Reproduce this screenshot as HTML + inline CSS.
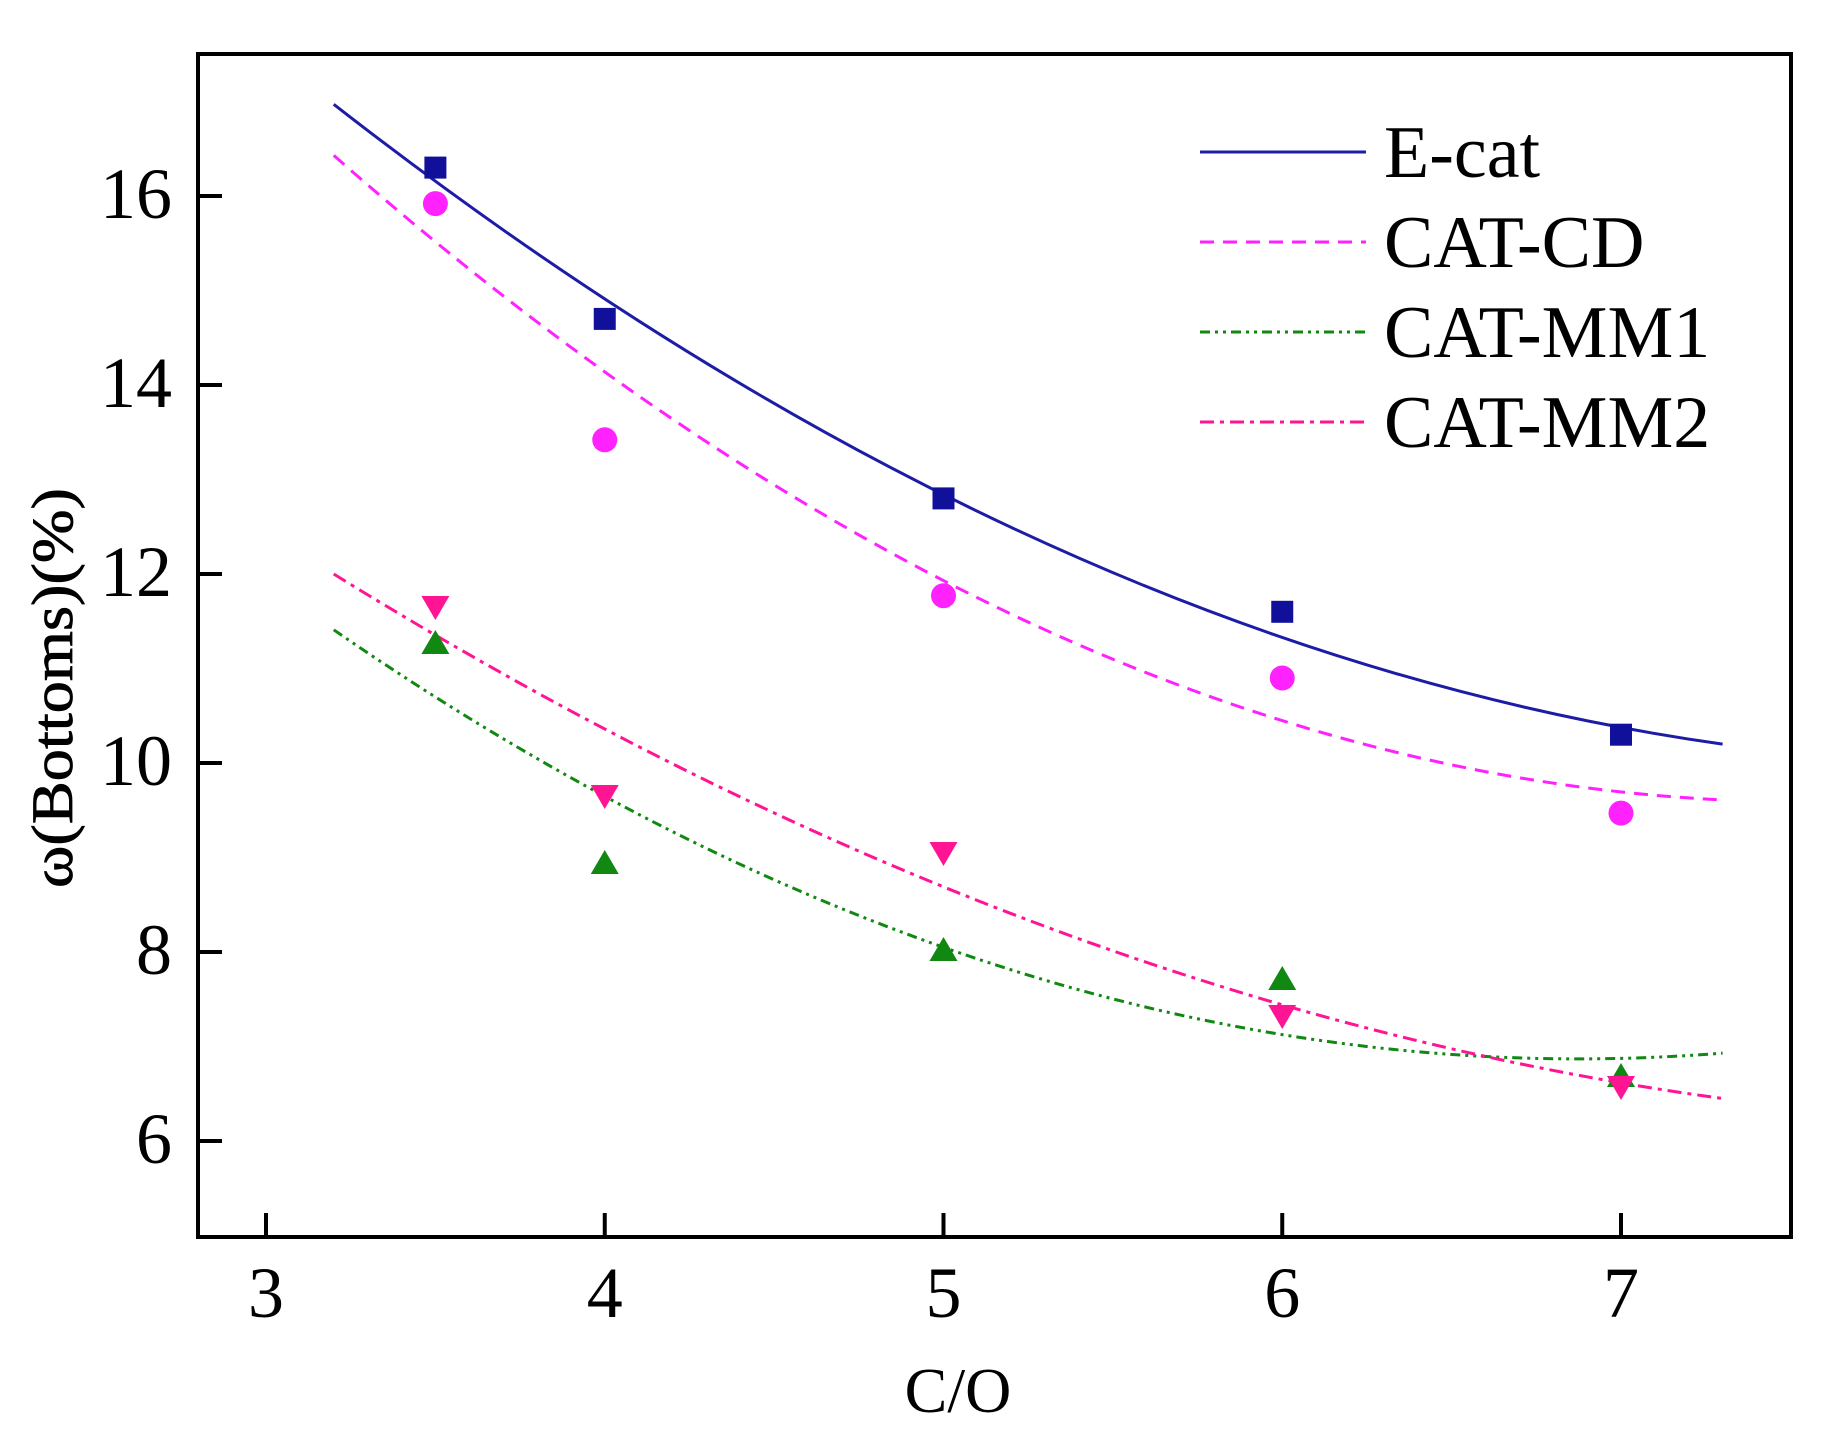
<!DOCTYPE html>
<html><head><meta charset="utf-8"><style>
html,body{margin:0;padding:0;background:#fff;}
svg{display:block;}
text{font-family:"Liberation Serif",serif;fill:#000;}
</style></head><body>
<svg width="1828" height="1432" viewBox="0 0 1828 1432" xmlns="http://www.w3.org/2000/svg">
<rect width="1828" height="1432" fill="#fff"/>
<rect x="198" y="54" width="1593" height="1183" fill="none" stroke="#000" stroke-width="4"/>
<g stroke="#000" stroke-width="4">
<line x1="198" y1="196" x2="222" y2="196"/>
<line x1="198" y1="385" x2="222" y2="385"/>
<line x1="198" y1="574" x2="222" y2="574"/>
<line x1="198" y1="763" x2="222" y2="763"/>
<line x1="198" y1="952" x2="222" y2="952"/>
<line x1="198" y1="1141" x2="222" y2="1141"/>
<line x1="266" y1="1237" x2="266" y2="1213"/>
<line x1="604.75" y1="1237" x2="604.75" y2="1213"/>
<line x1="943.5" y1="1237" x2="943.5" y2="1213"/>
<line x1="1282.25" y1="1237" x2="1282.25" y2="1213"/>
<line x1="1621" y1="1237" x2="1621" y2="1213"/>
</g>
<g font-size="72" text-anchor="end">
<text x="172" y="218">16</text>
<text x="172" y="407">14</text>
<text x="172" y="596">12</text>
<text x="172" y="785">10</text>
<text x="172" y="974">8</text>
<text x="172" y="1163">6</text>
</g>
<g font-size="72" text-anchor="middle">
<text x="266" y="1317">3</text>
<text x="604.75" y="1317">4</text>
<text x="943.5" y="1317">5</text>
<text x="1282.25" y="1317">6</text>
<text x="1621" y="1317">7</text>
</g>
<text x="958" y="1412" font-size="64" text-anchor="middle">C/O</text>
<text transform="translate(72,688) rotate(-90)" font-size="58" text-anchor="middle" textLength="400" lengthAdjust="spacingAndGlyphs" stroke="#000" stroke-width="0.8">ω(Bottoms)(%)</text>
<g fill="none" stroke-width="3">
<path d="M333.75,104.3 Q1028.2,646.4 1722.6,744.1" stroke="#1c1ca6"/>
<path d="M333.75,155.4 Q1028.2,766.5 1722.6,799.9" stroke="#ff22ff" stroke-dasharray="14,9"/>
<path d="M333.75,629.8 Q1028.2,1108.7 1722.6,1053.1" stroke="#118811" stroke-dasharray="10,5,3,5,3,5"/>
<path d="M333.75,574 Q1028.2,1003.9 1722.6,1098.5" stroke="#ff1493" stroke-dasharray="14,6,4,6"/>
</g>
<g fill="#10109a">
<rect x="424.4" y="156.6" width="22" height="22"/>
<rect x="593.75" y="307.9" width="22" height="22"/>
<rect x="932.5" y="487.4" width="22" height="22"/>
<rect x="1271.25" y="600.8" width="22" height="22"/>
<rect x="1610" y="723.7" width="22" height="22"/>
</g>
<g fill="#ff22ff">
<circle cx="435.4" cy="203.6" r="12.5"/>
<circle cx="604.75" cy="439.8" r="12.5"/>
<circle cx="943.5" cy="595.7" r="12.5"/>
<circle cx="1282.25" cy="678" r="12.5"/>
<circle cx="1621" cy="813.1" r="12.5"/>
</g>
<g fill="#118811">
<path d="M435.4,630 l14,24 h-28z"/>
<path d="M604.75,850 l14,24 h-28z"/>
<path d="M943.5,937 l14,24 h-28z"/>
<path d="M1282.25,966 l14,24 h-28z"/>
<path d="M1621,1063 l14,24 h-28z"/>
</g>
<g fill="#ff1493">
<path d="M435.4,620 l14,-24 h-28z"/>
<path d="M604.75,809 l14,-24 h-28z"/>
<path d="M943.5,866 l14,-24 h-28z"/>
<path d="M1282.25,1029 l14,-24 h-28z"/>
<path d="M1621,1100 l14,-24 h-28z"/>
</g>
<g fill="none" stroke-width="3">
<line x1="1200" y1="152" x2="1366" y2="152" stroke="#1c1ca6"/>
<line x1="1200" y1="242" x2="1366" y2="242" stroke="#ff22ff" stroke-dasharray="14,9"/>
<line x1="1200" y1="332" x2="1366" y2="332" stroke="#118811" stroke-dasharray="10,5,3,5,3,5"/>
<line x1="1200" y1="422" x2="1366" y2="422" stroke="#ff1493" stroke-dasharray="14,6,4,6"/>
</g>
<g font-size="74">
<text x="1384" y="177">E-cat</text>
<text x="1384" y="267">CAT-CD</text>
<text x="1384" y="357">CAT-MM1</text>
<text x="1384" y="447">CAT-MM2</text>
</g>
</svg>
</body></html>
